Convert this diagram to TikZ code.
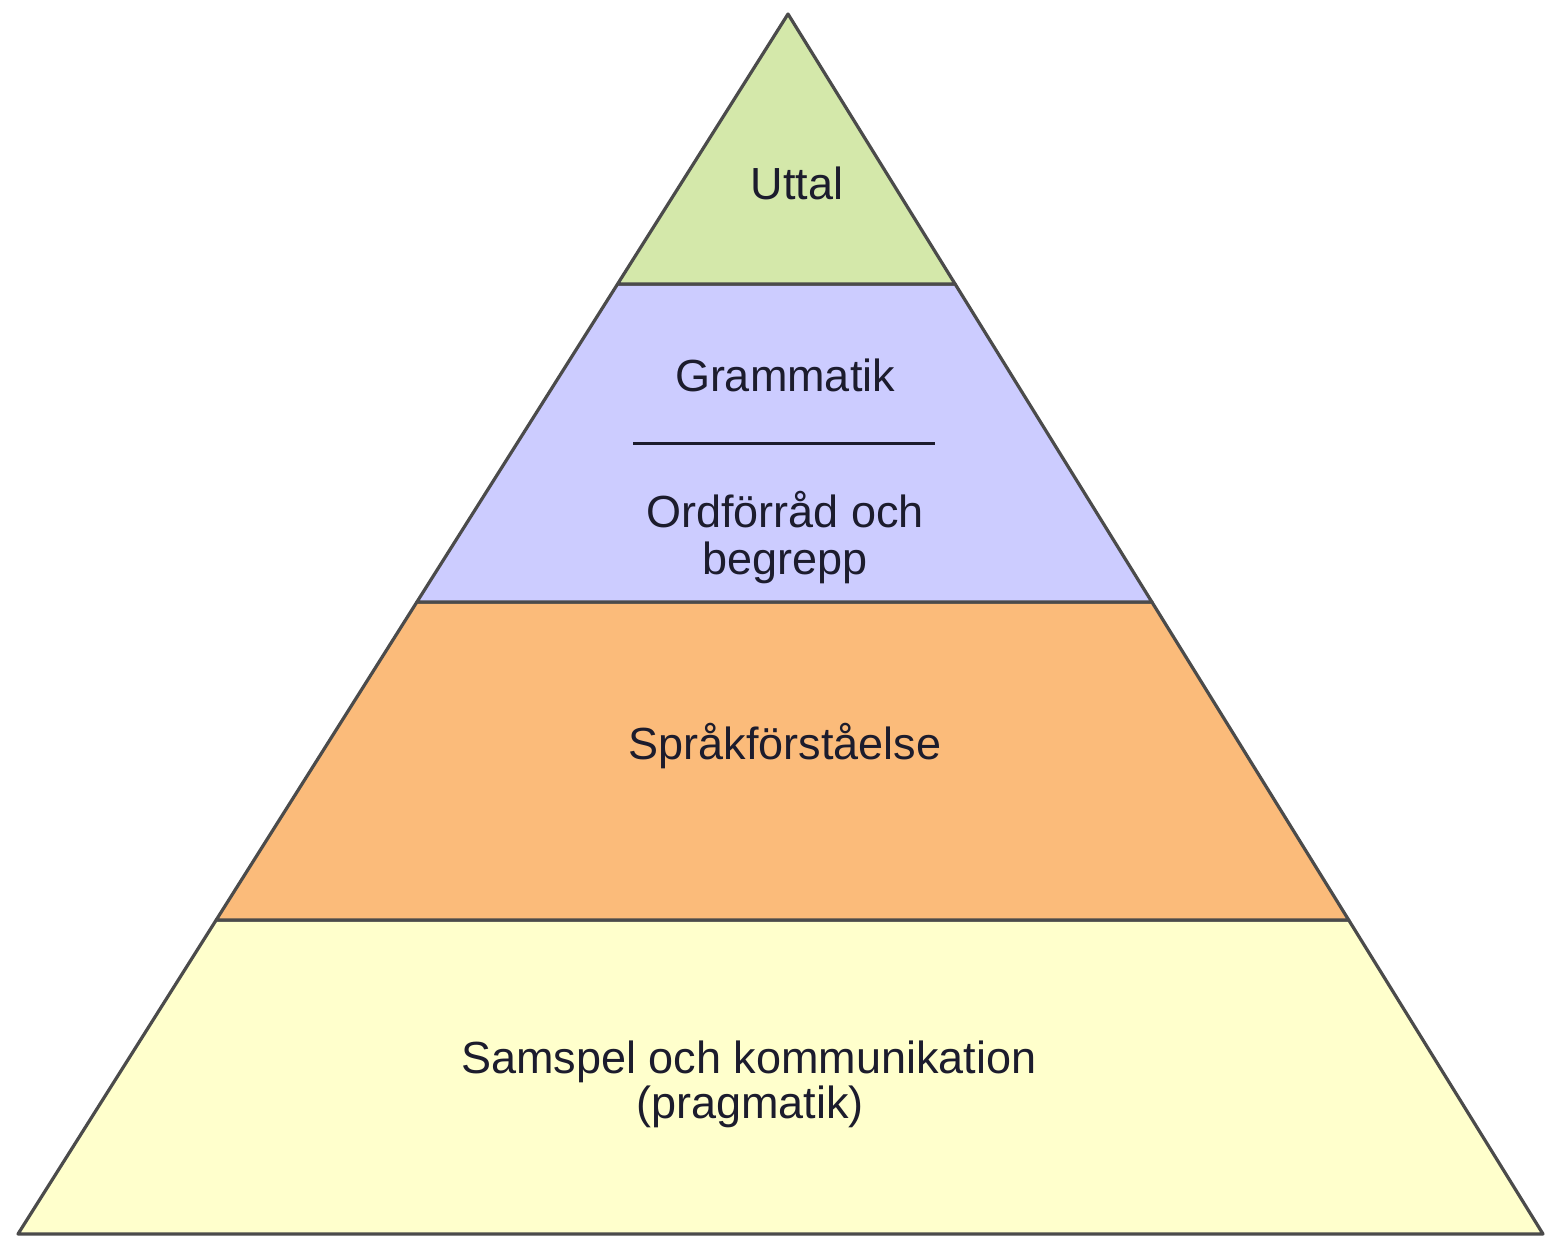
\documentclass[tikz,border=0pt]{standalone}
\usepackage{fontspec}
\setmainfont{Liberation Sans}
\usetikzlibrary{calc}
\definecolor{lgreen}{RGB}{212,232,170}
\definecolor{lviolet}{RGB}{204,204,255}
\definecolor{lorange}{RGB}{251,187,122}
\definecolor{lyellow}{RGB}{255,255,204}
\definecolor{edge}{RGB}{75,75,75}
\definecolor{txt}{RGB}{28,28,45}
\begin{document}
\begin{tikzpicture}[x=0.5pt,y=-0.5pt,
  layer/.style={draw=edge,line width=1.6pt,line join=round},
  lbl/.style={anchor=base,text=txt,font=\fontsize{22.5pt}{25pt}\selectfont,inner sep=0pt}]
\useasboundingbox (0,0) rectangle (1546,1237);
\fill[white] (0,0) rectangle (1546,1237);
% key points
\coordinate (apex) at (788,14);
\coordinate (bl) at (18,1234);
\coordinate (br) at (1543,1234);
\coordinate (l1) at ($(apex)!0.2213!(bl)$);
\coordinate (r1) at ($(apex)!0.2213!(br)$);
\coordinate (l2) at ($(apex)!0.4820!(bl)$);
\coordinate (r2) at ($(apex)!0.4820!(br)$);
\coordinate (l3) at ($(apex)!0.7426!(bl)$);
\coordinate (r3) at ($(apex)!0.7426!(br)$);
% layers
\filldraw[layer,fill=lyellow] (l3) -- (r3) -- (br) -- (bl) -- cycle;
\filldraw[layer,fill=lorange] (l2) -- (r2) -- (r3) -- (l3) -- cycle;
\filldraw[layer,fill=lviolet] (l1) -- (r1) -- (r2) -- (l2) -- cycle;
\filldraw[layer,fill=lgreen] (apex) -- (r1) -- (l1) -- cycle;
% divider
\coordinate (d1) at (633,443);
\coordinate (d2) at (935,443);
\draw[draw=txt,line width=1.5pt] (d1) -- (d2);
% labels
\node[lbl] (uttal) at (797,199) {Uttal};
\node[lbl] (gram) at (785,391) {Grammatik};
\node[lbl] (ord1) at (785,527) {Ordförråd och};
\node[lbl] (ord2) at (785,574) {begrepp};
\node[lbl] (spr) at (785,759) {Språkförståelse};
\node[lbl] (sam1) at (749,1073) {Samspel och kommunikation};
\node[lbl] (sam2) at (750,1118) {(pragmatik)};
\end{tikzpicture}
\end{document}
